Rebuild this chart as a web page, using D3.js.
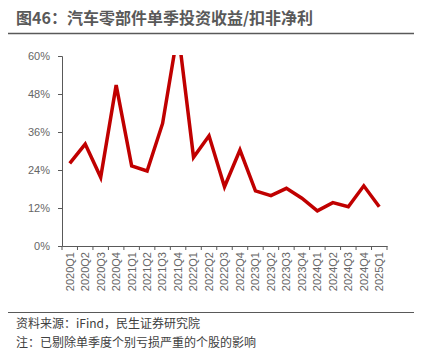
<!DOCTYPE html>
<html>
<head>
<meta charset="utf-8">
<script src="https://cdn.jsdelivr.net/npm/d3@7"></script>
<style>
  body { margin: 0; background: #fff; }
  svg { display: block; font-family: "Noto Sans CJK SC", "Noto Sans", sans-serif; }
</style>
</head>
<body>
<div id="chart"></div>
<script>
// --------------------------------------
//  Data
// --------------------------------------

const quarters = ["2020Q1", "2020Q2", "2020Q3", "2020Q4", "2021Q1", "2021Q2", "2021Q3", "2021Q4",
  "2022Q1", "2022Q2", "2022Q3", "2022Q4", "2023Q1", "2023Q2", "2023Q3", "2023Q4",
  "2024Q1", "2024Q2", "2024Q3", "2024Q4", "2025Q1"];

// 单季投资收益/扣非净利 (%)
const ratio = [26.1, 32.2, 21.7, 50.8, 25.3, 23.7, 38.7, 68.0,
  28.0, 34.8, 18.7, 30.3, 17.4, 15.9, 18.2, 15.1,
  11.1, 13.7, 12.4, 19.0, 12.4];

const yTicks = [0, 12, 24, 36, 48, 60];

// --------------------------------------
//  Canvas
// --------------------------------------

const width = 422;
const height = 351;
const margin = {top: 56, right: 35, bottom: 105, left: 62};

const svg = d3.select("#chart")
  .append("svg")
    .attr("width", width)
    .attr("height", height);

// title + rules
svg.append("text")
    .attr("x", 16)
    .attr("y", 24)
    .attr("font-size", 16)
    .attr("font-weight", "bold")
    .attr("fill", "#595959")
    .text("图46：汽车零部件单季投资收益/扣非净利");

svg.append("line")
    .attr("x1", 8).attr("x2", 414)
    .attr("y1", 33.5).attr("y2", 33.5)
    .attr("stroke", "#595959")
    .attr("stroke-width", 1.5);

svg.append("line")
    .attr("x1", 8).attr("x2", 414)
    .attr("y1", 312.5).attr("y2", 312.5)
    .attr("stroke", "#595959")
    .attr("stroke-width", 1.2);

svg.append("text")
    .attr("x", 16).attr("y", 328)
    .attr("font-size", 12)
    .attr("fill", "#404040")
    .text("资料来源：iFind，民生证券研究院");

svg.append("text")
    .attr("x", 16).attr("y", 347)
    .attr("font-size", 12)
    .attr("fill", "#404040")
    .text("注：已剔除单季度个别亏损严重的个股的影响");

// --------------------------------------
//  Scales
// --------------------------------------

const x = d3.scaleBand()
    .domain(quarters)
    .range([margin.left, width - margin.right]);

const y = d3.scaleLinear()
    .domain([0, 60])
    .range([height - margin.bottom, margin.top]);

// --------------------------------------
//  Axes
// --------------------------------------

const axisColor = "#595959";

const yAxis = svg.append("g")
    .attr("transform", `translate(${margin.left}, 0)`)
    .call(d3.axisLeft(y)
        .tickValues(yTicks)
        .tickSize(4)
        .tickPadding(8)
        .tickFormat(d => d + "%"));

yAxis.select(".domain").attr("stroke", axisColor);
yAxis.selectAll(".tick line").attr("stroke", axisColor);
yAxis.selectAll(".tick text")
    .attr("fill", "#666")
    .attr("font-size", 11);

const xAxis = svg.append("g")
    .attr("transform", `translate(0, ${y(0)})`)
    .call(d3.axisBottom(x).tickSize(0).tickPadding(0));

xAxis.select(".domain").attr("stroke", axisColor);
xAxis.selectAll(".tick text")
    .attr("fill", "#666")
    .attr("font-size", 11)
    .attr("text-anchor", "end")
    .attr("dy", "0.35em")
    .attr("transform", "translate(0, 6) rotate(-90)");

// boundary ticks
xAxis.selectAll(".bound")
    .data(quarters.concat(["end"]))
    .join("line")
    .attr("class", "bound")
    .attr("x1", d => d === "end" ? x.range()[1] : x(d))
    .attr("x2", d => d === "end" ? x.range()[1] : x(d))
    .attr("y1", 0)
    .attr("y2", 4)
    .attr("stroke", axisColor);

// --------------------------------------
//  Line
// --------------------------------------

svg.append("clipPath")
    .attr("id", "plot-clip")
  .append("rect")
    .attr("x", margin.left)
    .attr("y", y(60) - 1)
    .attr("width", width - margin.left - margin.right)
    .attr("height", y(0) - y(60) + 1);

const line = d3.line()
    .x((d, i) => x(quarters[i]) + x.bandwidth() / 2)
    .y(d => y(d));

svg.append("path")
    .datum(ratio)
    .attr("clip-path", "url(#plot-clip)")
    .attr("fill", "none")
    .attr("stroke", "#c00000")
    .attr("stroke-width", 3.5)
    .attr("stroke-linejoin", "miter")
    .attr("d", line);
</script>
</body>
</html>
